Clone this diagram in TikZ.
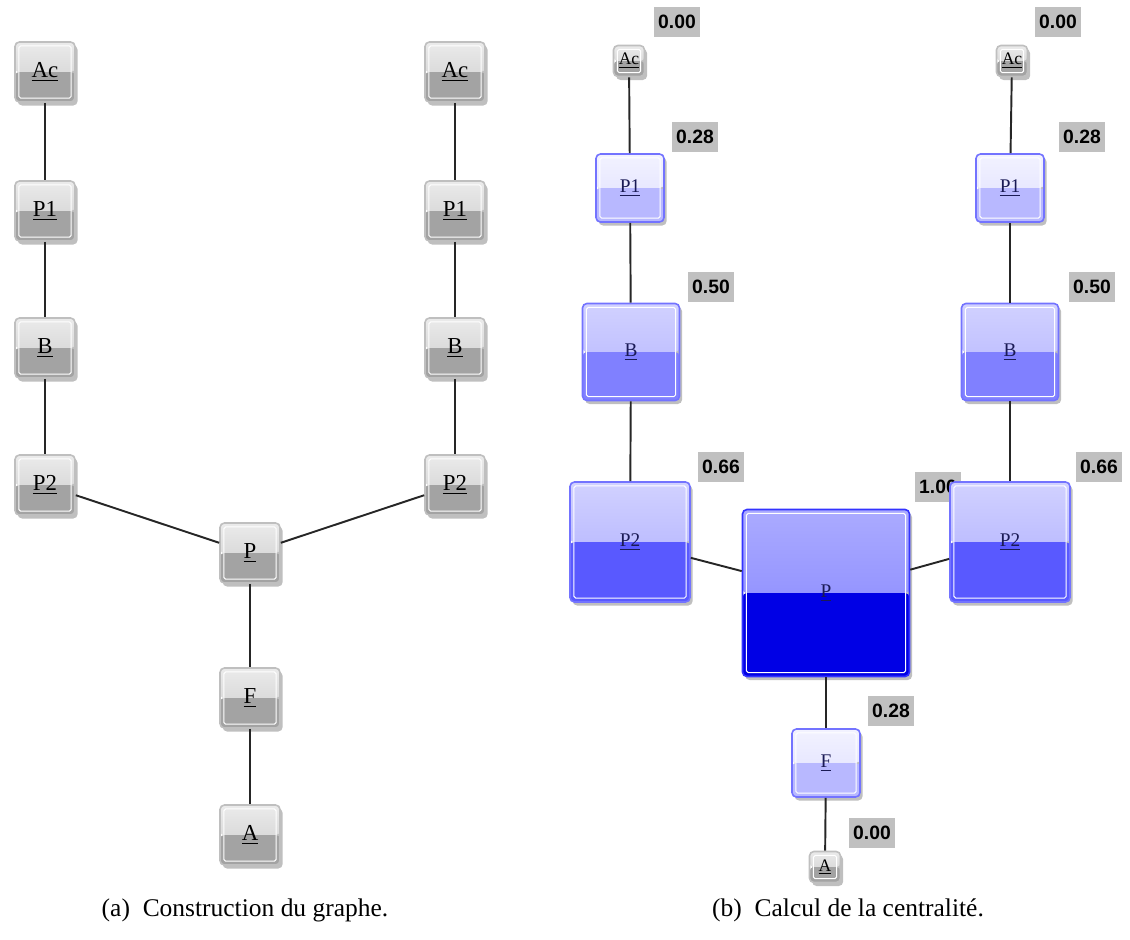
\documentclass[tikz,border=0pt]{standalone}
\usepackage{fontspec}
\setmainfont{Liberation Serif}
\setsansfont{Liberation Sans}
\usepackage{tikz}
\usetikzlibrary{shadows}
\usepackage{xcolor}
\definecolor{navylab}{HTML}{1A1A55}
\definecolor{valgray}{HTML}{C0C0C0}

\tikzset{
  glassbox/.style n args={4}{rectangle, rounded corners=2.5pt, line width=0.9pt,
    minimum size=#1, inner sep=0pt,
    drop shadow={shadow xshift=1.5pt, shadow yshift=-2pt, opacity=0.25, fill=black},
    path picture={
      \shade[top color=#2, bottom color=#3]
        (path picture bounding box.north west) rectangle (path picture bounding box.east);
      \fill[#4] (path picture bounding box.west) rectangle (path picture bounding box.south east);
      \draw[white, line width=0.6pt, rounded corners=1pt]
        ([shift={(2.2pt,2.2pt)}]path picture bounding box.south west) rectangle
        ([shift={(-2.2pt,-2.2pt)}]path picture bounding box.north east);
    }},
  graybox/.style={glassbox={#1}{black!8}{black!20}{black!36}, draw=black!25},
  gnode/.style={graybox=1.2cm, font=\fontsize{13}{15}\selectfont},
  gsmall/.style={graybox=0.62cm, font=\fontsize{10}{12}\selectfont},
  bluebox/.style n args={4}{glassbox={#1}{#2}{#3}{#4}, draw=blue!55,
    text=navylab, font=\fontsize{11}{13}\selectfont},
  cent28/.style={bluebox={1.36cm}{blue!5}{blue!13}{blue!28}},
  cent50/.style={bluebox={1.94cm}{blue!18}{blue!30}{blue!50}},
  cent66/.style={bluebox={2.4cm}{blue!18}{blue!33}{blue!65}},
  cent100/.style={bluebox={3.34cm}{blue!33}{blue!50}{blue!90!black!100}, draw=blue!80},
  val/.style={fill=valgray, font=\sffamily\bfseries\fontsize{11}{13}\selectfont,
    minimum width=0.92cm, minimum height=0.6cm, inner sep=2pt},
  link/.style={draw=black!85, line width=1.1pt},
  caption/.style={font=\fontsize{14.5}{17}\selectfont}
}

\begin{document}
\begin{tikzpicture}[x=0.02cm, y=-0.02cm]
  \useasboundingbox (0,0) rectangle (1130,940);

  % (a) construction
  \node[gnode] (a-ac1) at (45,72) {\underline{Ac}};
  \node[gnode] (a-p11) at (45,211) {\underline{P1}};
  \node[gnode] (a-b1) at (45,348) {\underline{B}};
  \node[gnode] (a-p21) at (45,485) {\underline{P2}};
  \node[gnode] (a-ac2) at (455,72) {\underline{Ac}};
  \node[gnode] (a-p12) at (455,211) {\underline{P1}};
  \node[gnode] (a-b2) at (455,348) {\underline{B}};
  \node[gnode] (a-p22) at (455,485) {\underline{P2}};
  \node[gnode] (a-p) at (250,553) {\underline{P}};
  \node[gnode] (a-f) at (250,698) {\underline{F}};
  \node[gnode] (a-a) at (250,835) {\underline{A}};

  \foreach \u/\v in {a-ac1/a-p11, a-p11/a-b1, a-b1/a-p21, a-p21/a-p,
                     a-ac2/a-p12, a-p12/a-b2, a-b2/a-p22, a-p22/a-p,
                     a-p/a-f, a-f/a-a}
    \draw[link] (\u) -- (\v);

  % (b) centralite
  \node[val] (v-ac1) at (677,22) {0.00};
  \node[val] (v-p11) at (695,137) {0.28};
  \node[val] (v-b1) at (711,287) {0.50};
  \node[val] (v-p21) at (721,467) {0.66};
  \node[val] (v-p) at (938,487) {1.00};
  \node[val] (v-ac2) at (1058,22) {0.00};
  \node[val] (v-p12) at (1082,137) {0.28};
  \node[val] (v-b2) at (1092,287) {0.50};
  \node[val] (v-p22) at (1099,467) {0.66};
  \node[val] (v-f) at (891,711) {0.28};
  \node[val] (v-a) at (872,833) {0.00};

  \node[gsmall] (b-ac1) at (629,61) {\underline{Ac}};
  \node[cent28] (b-p11) at (630,188) {\underline{P1}};
  \node[cent50] (b-b1) at (631,352) {\underline{B}};
  \node[cent66] (b-p21) at (630,542) {\underline{P2}};
  \node[gsmall] (b-ac2) at (1012,61) {\underline{Ac}};
  \node[cent28] (b-p12) at (1010,188) {\underline{P1}};
  \node[cent50] (b-b2) at (1010,352) {\underline{B}};
  \node[cent66] (b-p22) at (1010,542) {\underline{P2}};
  \node[cent100] (b-p) at (826,593) {\underline{P}};
  \node[cent28] (b-f) at (826,763) {\underline{F}};
  \node[gsmall] (b-a) at (825,867) {\underline{A}};

  \foreach \u/\v in {b-ac1/b-p11, b-p11/b-b1, b-b1/b-p21, b-p21/b-p,
                     b-ac2/b-p12, b-p12/b-b2, b-b2/b-p22, b-p22/b-p,
                     b-p/b-f, b-f/b-a}
    \draw[link] (\u) -- (\v);

  \node[caption] (cap-a) at (245,910) {(a)\ \ Construction du graphe.};
  \node[caption] (cap-b) at (848,910) {(b)\ \ Calcul de la centralité.};
\end{tikzpicture}
\end{document}
